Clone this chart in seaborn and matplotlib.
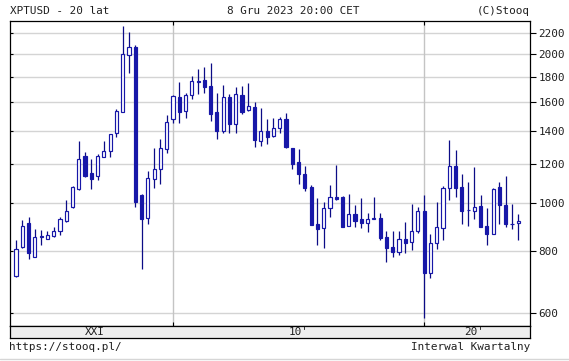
import numpy as np
import pandas as pd
import seaborn as sns
import matplotlib
matplotlib.use("Agg")
import matplotlib.pyplot as plt
from matplotlib.lines import Line2D
from matplotlib.ticker import NullLocator, FixedLocator, FixedFormatter

# ---------------- data (quarterly XPTUSD) ----------------
quarters = pd.period_range("2003Q4", "2023Q4", freq="Q").astype(str).tolist()

open_ = [713, 815, 911, 780, 855, 847, 860, 879, 921, 981,
         1068, 1245, 1149, 1135, 1240, 1274, 1383, 1529, 1986, 2068,
         1040, 932, 1121, 1170, 1284, 1480, 1637, 1534, 1650, 1766,
         1769, 1723, 1527, 1400, 1635, 1442, 1650, 1539, 1560, 1337,
         1398, 1368, 1416, 1476, 1290, 1209, 1145, 1080, 908, 890,
         977, 1028, 1029, 901, 951, 928, 914, 930, 932, 855,
         815, 796, 848, 834, 880, 963, 722, 831, 890, 1071,
         1189, 1076, 969, 966, 987, 898, 867, 1076, 992, 908,
         911]
high = [843, 925, 938, 886, 884, 880, 897, 939, 1015, 1085,
        1335, 1268, 1226, 1255, 1333, 1380, 1546, 2276, 2217, 2084,
        1044, 1163, 1292, 1347, 1506, 1652, 1755, 1665, 1805, 1864,
        1879, 1914, 1665, 1731, 1660, 1718, 1723, 1750, 1602, 1556,
        1480, 1483, 1492, 1518, 1292, 1288, 1189, 1088, 1023, 1007,
        1088, 1194, 1032, 1044, 990, 1023, 954, 1028, 954, 878,
        878, 878, 917, 995, 981, 1039, 866, 1007, 1083, 1341,
        1280, 1143, 1104, 1185, 1039, 977, 1072, 1104, 1135, 996,
        951]
low = [710, 812, 771, 778, 822, 846, 856, 862, 918, 978,
       1065, 1131, 1067, 1114, 1237, 1241, 1358, 1525, 1827, 984,
       736, 908, 1071, 1092, 1264, 1453, 1449, 1487, 1624, 1660,
       1665, 1467, 1345, 1387, 1383, 1383, 1513, 1535, 1296, 1304,
       1314, 1362, 1387, 1294, 1174, 1092, 1060, 903, 824, 814,
       939, 1015, 894, 899, 897, 893, 876, 929, 843, 760,
       780, 785, 793, 805, 870, 586, 708, 810, 843, 1015,
       1031, 908, 901, 929, 894, 824, 865, 908, 894, 886,
       843]
close = [810, 901, 793, 854, 860, 863, 880, 928, 965, 1080,
         1226, 1135, 1117, 1245, 1272, 1377, 1536, 1995, 2061, 1007,
         931, 1122, 1170, 1290, 1456, 1642, 1529, 1652, 1766, 1758,
         1718, 1513, 1396, 1635, 1442, 1660, 1529, 1568, 1341, 1396,
         1362, 1418, 1478, 1296, 1200, 1143, 1071, 905, 887, 977,
         1028, 1018, 897, 951, 922, 911, 928, 932, 850, 812,
         796, 848, 833, 880, 966, 722, 830, 894, 1071, 1189,
         1075, 966, 967, 984, 897, 866, 1068, 992, 907, 906,
         921]

y_ticks = [600, 800, 1000, 1200, 1400, 1600, 1800, 2000, 2200]
era_labels = ["XXI", "10'", "20'"]
era_starts = ["2010Q1", "2020Q1"]

title_left = "XPTUSD - 20 lat"
title_mid = "8 Gru 2023 20:00 CET"
title_right = "(C)Stooq"
foot_left = "https://stooq.pl/"
foot_right = "Interwal Kwartalny"

df = pd.DataFrame({"q": quarters, "open": open_, "high": high,
                   "low": low, "close": close})
df["i"] = np.arange(len(df))
df["top"] = df[["open", "close"]].max(axis=1)
df["bot"] = df[["open", "close"]].min(axis=1)
df["down"] = df["close"] < df["open"]

# ---------------- styling ----------------
sns.set_theme(style="white")
plt.rcParams["font.family"] = ["DejaVu Sans Mono"]
FS = 7.9
TXT = "#202020"
BLUE = "#1717a8"
WICK = "#0c0c86"
GRID = "#d4d4d4"

W, H = 569, 361
fig = plt.figure(figsize=(W / 100, H / 100), dpi=100)
fig.patch.set_facecolor("white")

L, R, T, B = 9.5, 530.0, 20.7, 326.0
ax = fig.add_axes([L / W, (H - B) / H, (R - L) / W, (B - T) / H])
ax.set_facecolor("white")

px = 6.279  # pixels per quarter
x0 = (L - 16.0) / px
x1 = (R - 16.0) / px
ax.set_xlim(x0, x1)
ax.set_yscale("log")
ax.set_ylim(565.7, 2332)

# grid
for v in y_ticks:
    ax.axhline(v, color=GRID, lw=1.0, zorder=0)
era_idx = [quarters.index(q) for q in era_starts]
for e in era_idx:
    ax.axvline(e, color="#c4c4c4", lw=1.0, zorder=0)

# wicks
ax.vlines(df["i"], df["low"], df["high"], color=WICK, lw=0.9, zorder=2)
# bodies
up = df[~df["down"]]
dn = df[df["down"]]
ax.bar(up["i"], up["top"] - up["bot"], bottom=up["bot"], width=0.5,
       facecolor="white", edgecolor=BLUE, linewidth=0.85, zorder=3)
ax.bar(dn["i"], dn["top"] - dn["bot"], bottom=dn["bot"], width=0.5,
       facecolor=BLUE, edgecolor=BLUE, linewidth=0.85, zorder=3)

# y axis: labels on the right, ticks outward
ax.yaxis.set_minor_locator(NullLocator())
ax.yaxis.set_major_locator(FixedLocator(y_ticks))
ax.yaxis.set_major_formatter(FixedFormatter([str(v) for v in y_ticks]))
ax.tick_params(axis="y", which="both", left=False, right=True,
               labelleft=False, labelright=True, direction="out",
               length=4, width=0.8, color="black", pad=2,
               labelsize=FS, labelcolor=TXT)
# small inward ticks on the left edge
ax.hlines(y_ticks, 0, 3.0 / (R - L), transform=ax.get_yaxis_transform(),
          color="black", lw=0.8, zorder=4)

# x axis: inward ticks at decade starts, top and bottom, no labels
ax.set_xticks(era_idx)
ax.tick_params(axis="x", which="both", bottom=True, top=True,
               labelbottom=False, direction="in", length=3, width=0.8,
               color="black")
for s in ax.spines.values():
    s.set_color("black")
    s.set_linewidth(0.9)
    s.set_visible(True)

# era strip under the plot
SB = 337.5
axs = fig.add_axes([L / W, (H - SB) / H, (R - L) / W, (SB - B) / H])
axs.set_facecolor("#eeeeee")
axs.set_xlim(x0, x1)
axs.set_ylim(0, 1)
axs.set_xticks([])
axs.set_yticks([])
for s in axs.spines.values():
    s.set_color("black")
    s.set_linewidth(0.9)
bounds = [x0 + 0.55 * (era_idx[0] - x0)] + \
         [(era_idx[0] + era_idx[1]) / 2, (era_idx[1] + x1) / 2]
for lab, xc in zip(era_labels, [12.6, bounds[1], 72.9]):
    axs.text(xc, 0.5, lab, ha="center", va="center", fontsize=FS,
             color=TXT)

# header and footer
fig.text(L / W, 1 - 11 / H, title_left, ha="left", va="center",
         fontsize=FS, color=TXT)
fig.text(293 / W, 1 - 11 / H, title_mid, ha="center", va="center",
         fontsize=FS, color=TXT)
fig.text(R / W, 1 - 11 / H, title_right, ha="right", va="center",
         fontsize=FS, color=TXT)
fig.text(L / W, 1 - 347 / H, foot_left, ha="left", va="center",
         fontsize=FS, color=TXT)
fig.text(R / W, 1 - 347 / H, foot_right, ha="right", va="center",
         fontsize=FS, color=TXT)
fig.add_artist(Line2D([0, 1], [1 - 358.5 / H, 1 - 358.5 / H],
                      transform=fig.transFigure, color="#d6d6d6", lw=1.0))

fig.savefig("out.png", dpi=100, facecolor="white")
